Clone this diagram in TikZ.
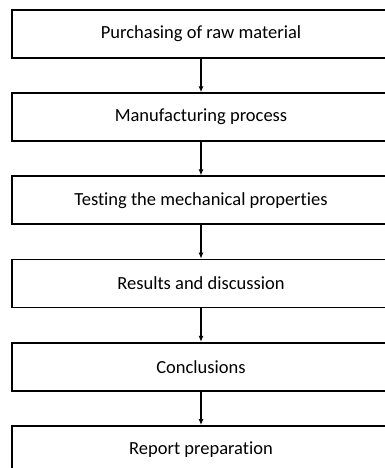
\documentclass[tikz,border=0pt]{standalone}
\usepackage{fontspec}
\setmainfont{Carlito}[Ligatures=NoCommon]
\usepackage{xcolor}
\usepackage{tikz}
\usetikzlibrary{positioning,arrows.meta}

\begin{document}
\begin{tikzpicture}[x=1pt,y=1pt,
  stage/.style={draw, line width=1.8pt, minimum width=378pt, minimum height=48pt, inner sep=0pt, font=\fontsize{18.5}{22}\selectfont},
  flow/.style={-{Latex[length=6pt,width=5pt]}, line width=1.5pt}]
\useasboundingbox (0,0) rectangle (385,468);
\clip (0,0) rectangle (385,468);

% Stages
\node[stage] (s1) at (201,434) {Purchasing of raw material};
\node[stage, below=33.4pt of s1] (s2) {Manufacturing process};
\node[stage, below=33.4pt of s2] (s3) {Testing the mechanical properties};
\node[stage, below=33.4pt of s3] (s4) {Results and discussion};
\node[stage, below=33.4pt of s4] (s5) {Conclusions};
\node[stage, below=33.4pt of s5] (s6) {Report preparation};

% Arrows
\draw[flow] (s1) -- (s2);
\draw[flow] (s2) -- (s3);
\draw[flow] (s3) -- (s4);
\draw[flow] (s4) -- (s5);
\draw[flow] (s5) -- (s6);
\end{tikzpicture}
\end{document}
